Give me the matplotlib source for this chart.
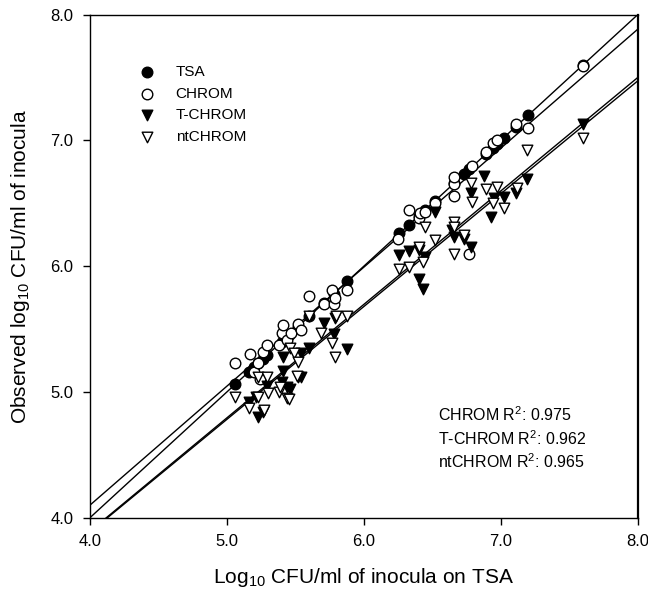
import numpy as np
import matplotlib
matplotlib.use("Agg")
import matplotlib.pyplot as plt
from matplotlib.ticker import FormatStrFormatter

plt.rcParams['font.family'] = ['Liberation Sans', 'DejaVu Sans']
plt.rcParams['mathtext.fontset'] = 'custom'
plt.rcParams['mathtext.rm'] = 'Liberation Sans'
plt.rcParams['mathtext.it'] = 'Liberation Sans:italic'

# log10 CFU/ml
tsa_x = [5.06, 5.16, 5.20, 5.23, 5.26, 5.29, 5.40, 5.45, 5.52, 5.60, 5.71, 5.78, 5.88,
         6.26, 6.33, 6.40, 6.45, 6.52, 6.66, 6.73, 6.77, 6.89, 6.94, 6.97, 7.02, 7.11, 7.20, 7.60]
tsa_y = [5.06, 5.16, 5.20, 5.23, 5.26, 5.29, 5.40, 5.45, 5.52, 5.60, 5.71, 5.78, 5.88,
         6.26, 6.33, 6.40, 6.45, 6.52, 6.66, 6.73, 6.77, 6.89, 6.94, 6.97, 7.02, 7.11, 7.20, 7.60]

chrom_x = [5.06, 5.17, 5.20, 5.23, 5.24, 5.26, 5.29, 5.38, 5.40, 5.41, 5.44, 5.47, 5.52, 5.54,
           5.60, 5.71, 5.77, 5.78, 5.79, 5.88, 6.25, 6.33, 6.40, 6.41, 6.45, 6.52, 6.66, 6.66,
           6.66, 6.77, 6.79, 6.89, 6.94, 6.97, 7.11, 7.20, 7.60]
chrom_y = [5.23, 5.30, 5.16, 5.23, 5.10, 5.32, 5.37, 5.37, 5.47, 5.53, 5.41, 5.47, 5.54, 5.49,
           5.76, 5.70, 5.81, 5.70, 5.75, 5.81, 6.22, 6.45, 6.38, 6.42, 6.43, 6.50, 6.65, 6.56,
           6.71, 6.10, 6.80, 6.91, 6.98, 7.00, 7.13, 7.10, 7.59]

tchrom_x = [5.16, 5.21, 5.23, 5.26, 5.29, 5.40, 5.41, 5.41, 5.44, 5.46, 5.52, 5.54, 5.54,
            5.60, 5.71, 5.78, 5.79, 5.88, 6.26, 6.33, 6.40, 6.40, 6.43, 6.45, 6.52, 6.645,
            6.66, 6.73, 6.78, 6.78, 6.88, 6.925, 6.95, 7.02, 7.11, 7.19, 7.60]
tchrom_y = [4.92, 4.96, 4.80, 4.84, 5.05, 5.08, 5.17, 5.28, 5.04, 5.02, 5.12, 5.31, 5.12,
            5.35, 5.55, 5.46, 5.59, 5.34, 6.09, 6.12, 6.13, 5.90, 5.82, 6.07, 6.43, 6.29,
            6.23, 6.22, 6.15, 6.58, 6.72, 6.39, 6.54, 6.55, 6.58, 6.69, 7.13]

ntchrom_x = [5.06, 5.16, 5.23, 5.23, 5.27, 5.29, 5.30, 5.38, 5.39, 5.44, 5.45, 5.46, 5.49,
             5.51, 5.52, 5.60, 5.69, 5.77, 5.79, 5.80, 5.88, 6.26, 6.33, 6.40, 6.43, 6.45,
             6.52, 6.66, 6.66, 6.66, 6.73, 6.78, 6.79, 6.89, 6.94, 6.97, 7.02, 7.12, 7.19, 7.60]
ntchrom_y = [4.96, 4.87, 4.96, 5.12, 4.86, 5.12, 4.99, 5.00, 5.04, 4.95, 4.94, 5.35, 5.31,
             5.13, 5.24, 5.60, 5.47, 5.39, 5.28, 5.60, 5.60, 5.98, 5.99, 6.15, 6.03, 6.31,
             6.21, 6.35, 6.31, 6.10, 6.25, 6.66, 6.51, 6.61, 6.50, 6.63, 6.46, 6.62, 6.92, 7.02]

# regression lines (slope, intercept) as drawn
fit_names = ['TSA', 'CHROM', 'T-CHROM', 'ntCHROM']
fit_slope = [1.0, 0.946, 0.902, 0.897]
fit_intercept = [0.0, 0.316, 0.284, 0.297]

r2_labels = ['CHROM', 'T-CHROM', 'ntCHROM']
r2_values = [0.975, 0.962, 0.965]

ticks = [4.0, 5.0, 6.0, 7.0, 8.0]

fig = plt.figure(figsize=(6.48, 5.94), dpi=100)
ax = fig.add_axes([0.1389, 0.1285, 0.8452, 0.8468])

xs = np.array([3.9, 8.1])
for s, b in zip(fit_slope, fit_intercept):
    ax.plot(xs, b + s * xs, color='black', lw=1.0, zorder=2)

ms = 58
ax.scatter(tsa_x, tsa_y, s=ms, marker='o', c='black', edgecolors='black', linewidths=1.0, zorder=3, label='TSA')
ax.scatter(chrom_x, chrom_y, s=ms, marker='o', c='white', edgecolors='black', linewidths=1.0, zorder=3, label='CHROM')
ax.scatter(tchrom_x, tchrom_y, s=ms, marker='v', c='black', edgecolors='black', linewidths=1.0, zorder=3, label='T-CHROM')
ax.scatter(ntchrom_x, ntchrom_y, s=ms, marker='v', c='white', edgecolors='black', linewidths=1.0, zorder=3, label='ntCHROM')

ax.set_xlim(4.0, 8.0)
ax.set_ylim(4.0, 8.0)
ax.set_xticks(ticks)
ax.set_yticks(ticks)
ax.xaxis.set_major_formatter(FormatStrFormatter('%.1f'))
ax.yaxis.set_major_formatter(FormatStrFormatter('%.1f'))
ax.tick_params(direction='out', length=5, width=1.0, pad=7, labelsize=12)
for sp in ax.spines.values():
    sp.set_linewidth(1.0)
ax.spines['right'].set_linewidth(1.6)

ax.set_xlabel(r'Log$_{\mathrm{10}}$ CFU/ml of inocula on TSA', fontsize=15, labelpad=12)
ax.set_ylabel(r'Observed log$_{\mathrm{10}}$ CFU/ml of inocula', fontsize=15, labelpad=13)

ax.legend(loc='upper left', bbox_to_anchor=(0.0895, 0.900), frameon=False, fontsize=11,
          handlelength=1.0, handletextpad=1.4, labelspacing=0.5, borderpad=0, borderaxespad=0)

for i, (lab, val) in enumerate(zip(r2_labels, r2_values)):
    ax.text(0.636, 0.205 - i * 0.047, lab + r' R$^{\mathrm{2}}$: ' + f'{val:.3f}',
            transform=ax.transAxes, fontsize=11.5, va='center', ha='left')

fig.savefig('out.png', dpi=100)
